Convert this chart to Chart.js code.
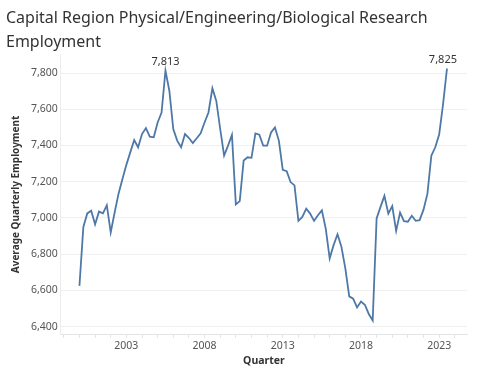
<!DOCTYPE html>
<html>
<head>
<meta charset="utf-8">
<script src="https://cdn.jsdelivr.net/npm/chart.js@4"></script>
<style>
  html, body { margin: 0; padding: 0; background: #fff; }
  #wrap { width: 478px; height: 377px; }
</style>
</head>
<body>
<div id="wrap"><canvas id="chart" width="478" height="377"></canvas></div>
<script>
// quarterly series, 2000 Q1 .. 2023 Q3
const startYear = 2000;
const employment = [
  6625, 6950, 7025, 7040, 6965, 7035, 7025, 7070, 6920, 7030, 7134, 7215,
  7293, 7362, 7430, 7390, 7463, 7496, 7449, 7445, 7527, 7582, 7813, 7701,
  7491, 7427, 7390, 7463, 7441, 7414, 7440, 7467, 7527, 7582, 7716, 7646,
  7491, 7344, 7399, 7458, 7075, 7093, 7317, 7335, 7332, 7467, 7460, 7399,
  7399, 7472, 7500, 7427, 7266, 7258, 7198, 7180, 6984, 7006, 7051, 7024,
  6984, 7015, 7042, 6940, 6777, 6850, 6910, 6841, 6722, 6567, 6554, 6506,
  6539, 6521, 6470, 6434, 6997, 7061, 7122, 7024, 7066, 6929, 7030, 6982,
  6979, 7012, 6984, 6988, 7046, 7134, 7344, 7390, 7460, 7628, 7825
];
const yearTicks = [2003, 2008, 2013, 2018, 2023];
const yTicks = [6400, 6600, 6800, 7000, 7200, 7400, 7600, 7800];

const points = employment.map((v, i) => ({ x: startYear + i / 4, y: v }));

const fmt = v => v.toLocaleString('en-US');

// labels on the earlier peak and on the latest quarter
const markLabels = {
  id: 'markLabels',
  afterDatasetsDraw(chart) {
    const ctx = chart.ctx;
    const xs = chart.scales.x, ys = chart.scales.y;
    const last = employment.length - 1;
    const earlier = employment.slice(0, last);
    const peak = earlier.indexOf(Math.max(...earlier));
    ctx.save();
    ctx.font = '11px "Noto Sans", sans-serif';
    ctx.fillStyle = '#333';
    ctx.textBaseline = 'bottom';
    [peak, last].forEach(i => {
      const px = xs.getPixelForValue(points[i].x);
      const py = ys.getPixelForValue(points[i].y);
      ctx.textAlign = i === last ? 'right' : 'center';
      ctx.fillText(fmt(employment[i]), i === last ? px + 10 : px, py - 3);
    });
    ctx.restore();
  }
};

new Chart(document.getElementById('chart'), {
  type: 'line',
  data: {
    datasets: [{
      data: points,
      borderColor: '#4e79a7',
      borderWidth: 1.8,
      pointRadius: 0,
      tension: 0,
      fill: false,
    }],
  },
  options: {
    responsive: false,
    animation: false,
    layout: { padding: { left: 6, right: 11, top: 0, bottom: 6 } },
    plugins: {
      legend: { display: false },
      tooltip: { enabled: false },
      title: {
        display: true,
        text: ['Capital Region Physical/Engineering/Biological Research', 'Employment'],
        align: 'start',
        color: '#333',
        font: { family: '"Noto Sans", sans-serif', size: 16, weight: 'normal', lineHeight: 1.5 },
        padding: { top: 6, bottom: 0 },
      },
    },
    scales: {
      x: {
        type: 'linear',
        min: 1998.81,
        max: 2024.78,
        afterBuildTicks: axis => {
          const t = [];
          for (let y = 1999; y <= 2024; y++) t.push({ value: y });
          axis.ticks = t;
        },
        ticks: {
          autoSkip: false,
          maxRotation: 0,
          color: '#555',
          font: { family: '"Noto Sans", sans-serif', size: 10.5 },
          padding: 2,
          callback: v => yearTicks.includes(v) ? String(v) : '',
        },
        grid: { drawOnChartArea: false, tickLength: 3, color: '#e4e4e4' },
        border: { color: '#e4e4e4' },
        title: {
          display: true,
          text: 'Quarter',
          color: '#333',
          font: { family: '"Noto Sans", sans-serif', size: 10.5, weight: 'bold' },
          padding: { top: 0 },
        },
      },
      y: {
        min: 6355,
        max: 7905,
        afterBuildTicks: axis => { axis.ticks = yTicks.map(v => ({ value: v })); },
        ticks: {
          color: '#555',
          font: { family: '"Noto Sans", sans-serif', size: 10.5 },
          padding: 3,
          callback: v => fmt(v),
        },
        grid: { color: '#f0f0f0', drawTicks: false },
        border: { color: '#ececec' },
        title: {
          display: true,
          text: 'Average Quarterly Employment',
          color: '#333',
          font: { family: '"Noto Sans", sans-serif', size: 10, weight: 'bold' },
          padding: { bottom: 6 },
        },
      },
    },
  },
  plugins: [markLabels],
});
</script>
</body>
</html>
